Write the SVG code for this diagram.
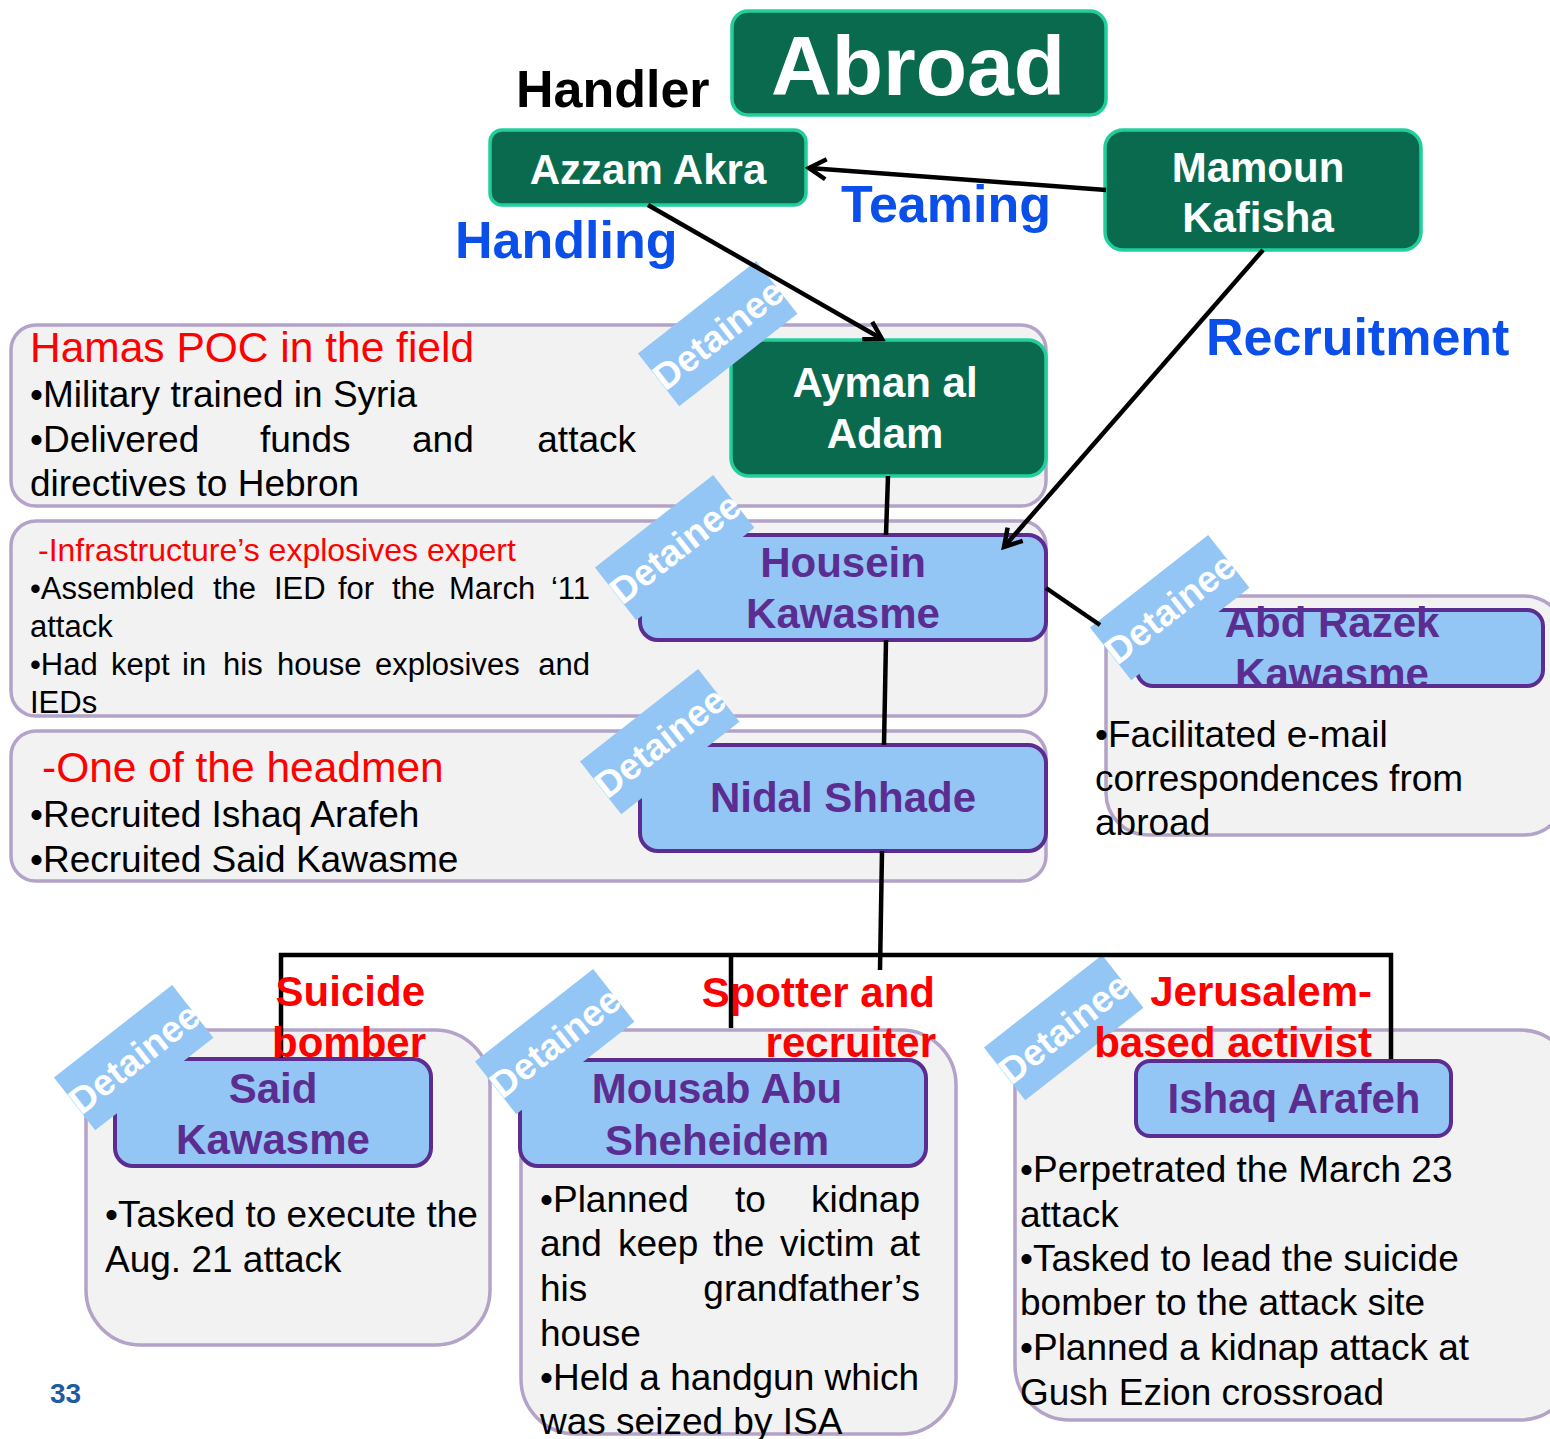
<svg xmlns="http://www.w3.org/2000/svg" width="1550" height="1439" viewBox="0 0 1550 1439">
<style>
.grey{fill:#F2F2F2;stroke:#B3A3C8;stroke-width:3.5}
.green{fill:#0A6A4E;stroke:#22CF9C;stroke-width:3.5}
.blue{fill:#93C6F5;stroke:#5C2D91;stroke-width:4}
.wn{font-family:"Liberation Sans",Arial,sans-serif;font-weight:bold;fill:#FFFFFF;text-anchor:middle}
.pn{font-family:"Liberation Sans",Arial,sans-serif;font-weight:bold;fill:#5C2D91;text-anchor:middle;font-size:42px}
.lbl{font-family:"Liberation Sans",Arial,sans-serif;font-weight:bold;fill:#0B4FEA;font-size:52px}
.red{font-family:"Liberation Sans",Arial,sans-serif;font-weight:bold;fill:#FF0000;font-size:42px;text-anchor:end}
.rt{font-family:"Liberation Sans",Arial,sans-serif;fill:#FF0000}
.bt{font-family:"Liberation Sans",Arial,sans-serif;fill:#000000;font-size:37px}
.bs{font-family:"Liberation Sans",Arial,sans-serif;fill:#000000;font-size:31px}
.tag rect{fill:#93C6F5}
.tag text{font-family:"Liberation Sans",Arial,sans-serif;font-weight:bold;fill:#FFFFFF;font-size:37px;text-anchor:middle}
.ln{stroke:#000;stroke-width:4.5;fill:none}
</style>
<defs>
<marker id="arr" viewBox="0 0 26 26" markerWidth="26" markerHeight="26" refX="22" refY="13" markerUnits="userSpaceOnUse" orient="auto">
<path d="M5,3 L22,13 L5,23" fill="none" stroke="#000" stroke-width="4.5"/>
</marker>
</defs>

<!-- info boxes -->
<g id="box-ayman-info">
<rect class="grey" x="11" y="325" width="1035" height="181" rx="25"/>
<text class="rt" x="30" y="362" font-size="42.5">Hamas POC in the field</text>
<text class="bt" x="30" y="407">•Military trained in Syria</text>
<text class="bt" x="30" y="452">•Delivered</text>
<text class="bt" x="260" y="452">funds</text>
<text class="bt" x="412" y="452">and</text>
<text class="bt" x="636" y="452" text-anchor="end">attack</text>
<text class="bt" x="30" y="496">directives to Hebron</text>
</g>
<g id="box-housein-info">
<rect class="grey" x="11" y="521" width="1035" height="195" rx="25"/>
<text class="rt" x="38" y="561" font-size="32">-Infrastructure’s explosives expert</text>
<text class="bs" x="30" y="599">•Assembled</text>
<text class="bs" x="213" y="599">the</text>
<text class="bs" x="274" y="599">IED</text>
<text class="bs" x="338" y="599">for</text>
<text class="bs" x="392" y="599">the</text>
<text class="bs" x="449" y="599">March</text>
<text class="bs" x="590" y="599" text-anchor="end">‘11</text>
<text class="bs" x="30" y="637">attack</text>
<text class="bs" x="30" y="675">•Had</text>
<text class="bs" x="111" y="675">kept</text>
<text class="bs" x="182" y="675">in</text>
<text class="bs" x="223" y="675">his</text>
<text class="bs" x="277" y="675">house</text>
<text class="bs" x="375" y="675">explosives</text>
<text class="bs" x="590" y="675" text-anchor="end">and</text>
<text class="bs" x="30" y="713">IEDs</text>
</g>
<g id="box-nidal-info">
<rect class="grey" x="11" y="731" width="1035" height="150" rx="25"/>
<text class="rt" x="42" y="782" font-size="42.5">-One of the headmen</text>
<text class="bt" x="30" y="827">•Recruited Ishaq Arafeh</text>
<text class="bt" x="30" y="872">•Recruited Said Kawasme</text>
</g>
<g id="box-abd-info">
<rect class="grey" x="1106" y="596" width="460" height="239" rx="42"/>
<text class="bt" x="1095" y="747">•Facilitated e-mail</text>
<text class="bt" x="1095" y="791">correspondences from</text>
<text class="bt" x="1095" y="835">abroad</text>
</g>
<g id="box-said-info">
<rect class="grey" x="86" y="1030" width="404" height="315" rx="55"/>
<text class="bt" x="105" y="1227">•Tasked to execute the</text>
<text class="bt" x="105" y="1272">Aug. 21 attack</text>
</g>
<g id="box-mousab-info">
<rect class="grey" x="521" y="1030" width="435" height="404" rx="55"/>
<text class="bt" x="540" y="1212">•Planned</text>
<text class="bt" x="735" y="1212">to</text>
<text class="bt" x="920" y="1212" text-anchor="end">kidnap</text>
<text class="bt" x="540" y="1256">and</text>
<text class="bt" x="618" y="1256">keep</text>
<text class="bt" x="713" y="1256">the</text>
<text class="bt" x="780" y="1256">victim</text>
<text class="bt" x="920" y="1256" text-anchor="end">at</text>
<text class="bt" x="540" y="1301">his</text>
<text class="bt" x="920" y="1301" text-anchor="end">grandfather’s</text>
<text class="bt" x="540" y="1346">house</text>
<text class="bt" x="540" y="1390">•Held a handgun which</text>
<text class="bt" x="540" y="1434">was seized by ISA</text>
</g>
<g id="box-ishaq-info">
<rect class="grey" x="1015" y="1030" width="560" height="390" rx="55"/>
<text class="bt" x="1020" y="1182">•Perpetrated the March 23</text>
<text class="bt" x="1020" y="1227">attack</text>
<text class="bt" x="1020" y="1271">•Tasked to lead the suicide</text>
<text class="bt" x="1020" y="1315">bomber to the attack site</text>
<text class="bt" x="1020" y="1360">•Planned a kidnap attack at</text>
<text class="bt" x="1020" y="1405">Gush Ezion crossroad</text>
</g>

<!-- main nodes -->
<g id="abroad">
<rect class="green" x="732" y="11" width="374" height="104" rx="16"/>
<text class="wn" x="918" y="95" font-size="84">Abroad</text>
</g>
<g id="handler-label">
<text x="516" y="107" font-family="Liberation Sans, Arial, sans-serif" font-weight="bold" font-size="52" fill="#000">Handler</text>
</g>
<g id="azzam">
<rect class="green" x="490" y="130" width="316" height="75" rx="12"/>
<text class="wn" x="648" y="184" font-size="42">Azzam Akra</text>
</g>
<g id="mamoun">
<rect class="green" x="1105" y="130" width="316" height="120" rx="18"/>
<text class="wn" x="1258" y="182" font-size="42">Mamoun</text>
<text class="wn" x="1258" y="232" font-size="42">Kafisha</text>
</g>
<g id="ayman">
<rect class="green" x="731" y="340" width="315" height="136" rx="18"/>
<text class="wn" x="885" y="397" font-size="42">Ayman al</text>
<text class="wn" x="885" y="448" font-size="42">Adam</text>
</g>
<g id="housein">
<rect class="blue" x="640" y="535" width="406" height="105" rx="18"/>
<text class="pn" x="843" y="577">Housein</text>
<text class="pn" x="843" y="628">Kawasme</text>
</g>
<g id="nidal">
<rect class="blue" x="640" y="745" width="406" height="106" rx="18"/>
<text class="pn" x="843" y="812">Nidal Shhade</text>
</g>
<g id="abd-razek">
<rect class="blue" x="1137" y="610" width="406" height="76" rx="16"/>
<text class="pn" x="1332" y="637">Abd Razek</text>
<text class="pn" x="1332" y="688">Kawasme</text>
</g>
<g id="said">
<rect class="blue" x="115" y="1059" width="316" height="107" rx="18"/>
<text class="pn" x="273" y="1103">Said</text>
<text class="pn" x="273" y="1154">Kawasme</text>
</g>
<g id="mousab">
<rect class="blue" x="520" y="1060" width="406" height="106" rx="18"/>
<text class="pn" x="717" y="1103">Mousab Abu</text>
<text class="pn" x="717" y="1155">Sheheidem</text>
</g>
<g id="ishaq">
<rect class="blue" x="1136" y="1061" width="315" height="75" rx="14"/>
<text class="pn" x="1294" y="1113">Ishaq Arafeh</text>
</g>

<!-- detainee tags -->
<g id="tags" class="tag">
<g transform="translate(718,334) rotate(-38)"><rect x="-75" y="-34" width="150" height="67"/><text x="0" y="13">Detainee</text></g>
<g transform="translate(675,548) rotate(-38)"><rect x="-75" y="-34" width="150" height="67"/><text x="0" y="13">Detainee</text></g>
<g transform="translate(660,742) rotate(-38)"><rect x="-75" y="-34" width="150" height="67"/><text x="0" y="13">Detainee</text></g>
<g transform="translate(1170,608) rotate(-38)"><rect x="-75" y="-34" width="150" height="67"/><text x="0" y="13">Detainee</text></g>
<g transform="translate(134,1058) rotate(-38)"><rect x="-75" y="-34" width="150" height="67"/><text x="0" y="13">Detainee</text></g>
<g transform="translate(555,1042) rotate(-38)"><rect x="-75" y="-34" width="150" height="67"/><text x="0" y="13">Detainee</text></g>
<g transform="translate(1064,1028) rotate(-38)"><rect x="-75" y="-34" width="150" height="67"/><text x="0" y="13">Detainee</text></g>
</g>

<!-- connectors -->
<g id="connectors">
<line class="ln" x1="1106" y1="190" x2="809" y2="168" marker-end="url(#arr)"/>
<line class="ln" x1="648" y1="205" x2="882" y2="339" marker-end="url(#arr)"/>
<line class="ln" x1="1263" y1="250" x2="1004" y2="547" marker-end="url(#arr)"/>
<line class="ln" x1="888" y1="476" x2="886" y2="535"/>
<line class="ln" x1="886" y1="640" x2="884" y2="745"/>
<line class="ln" x1="1046" y1="588" x2="1100" y2="625"/>
<line class="ln" x1="882" y1="851" x2="880" y2="970"/>
<polyline class="ln" points="281,1058 281,955 1391,955 1391,1059"/>
<line class="ln" x1="731" y1="955" x2="731" y2="1028"/>
</g>

<!-- relation labels -->
<g id="labels">
<text class="lbl" x="841" y="222">Teaming</text>
<text class="lbl" x="455" y="258">Handling</text>
<text class="lbl" x="1206" y="355" font-size="53">Recruitment</text>
<text class="red" x="425" y="1006">Suicide</text>
<text class="red" x="426" y="1057">bomber</text>
<text class="red" x="935" y="1007">Spotter and</text>
<text class="red" x="936" y="1057">recruiter</text>
<text class="red" x="1372" y="1006">Jerusalem-</text>
<text class="red" x="1372" y="1057">based activist</text>
<text x="50" y="1403" font-family="Liberation Sans, Arial, sans-serif" font-weight="bold" font-size="28" fill="#1F5C9E">33</text>
</g>
</svg>
